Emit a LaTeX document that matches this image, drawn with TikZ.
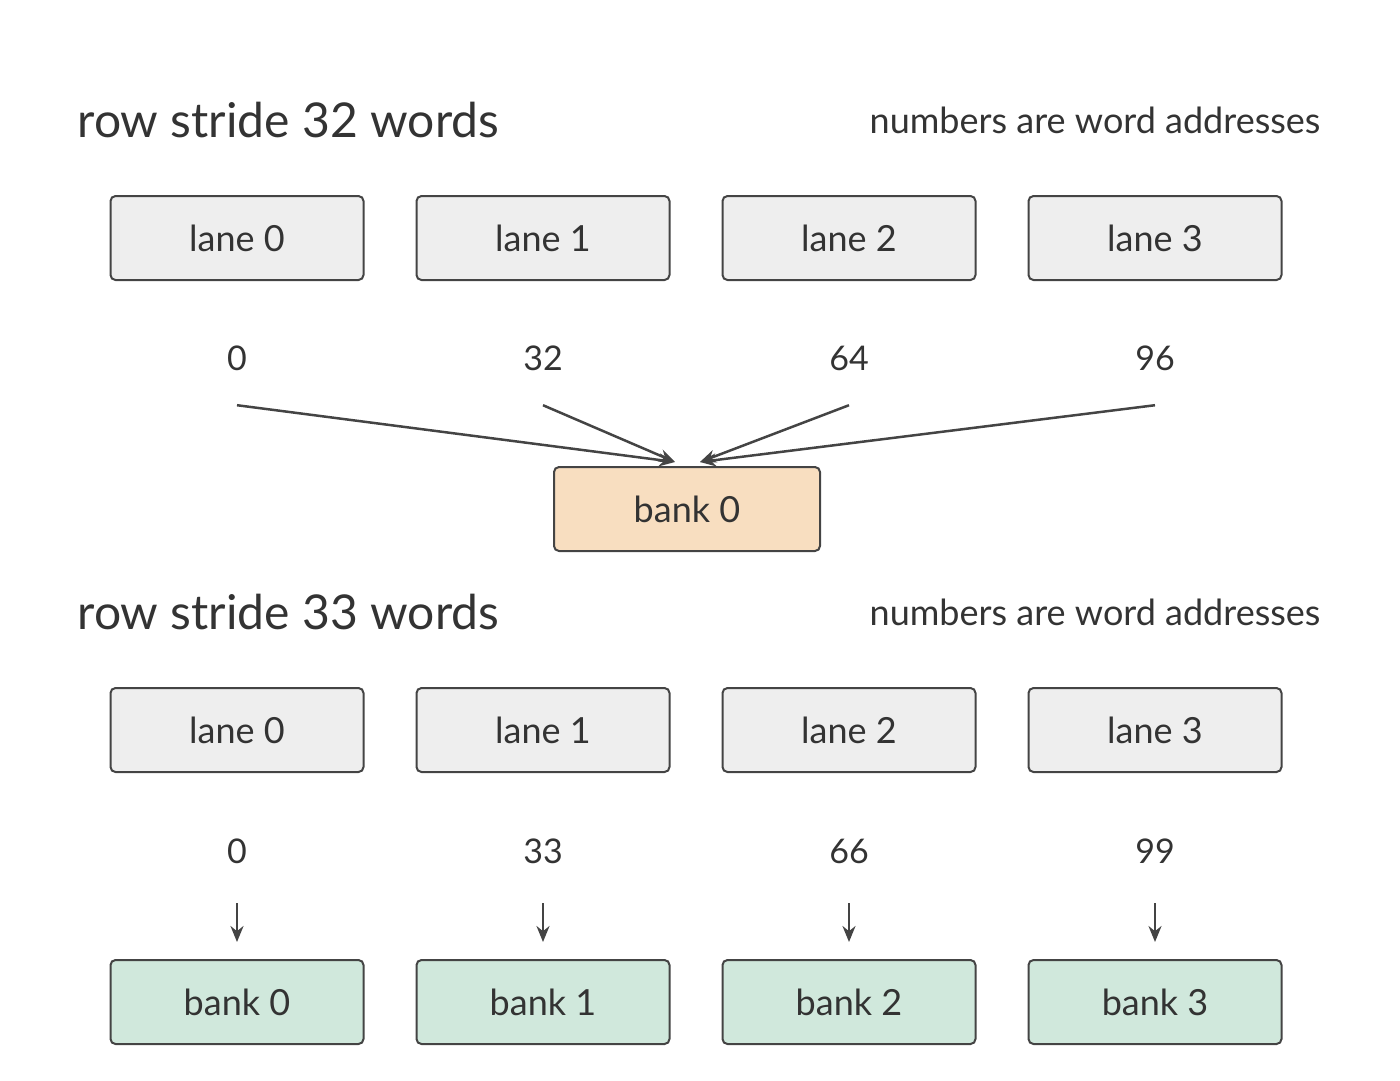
\documentclass[tikz,border=0pt]{standalone}
\usepackage{fontspec}
\setmainfont{Lato}
\usepackage{xcolor}
\usetikzlibrary{arrows.meta,positioning}
\definecolor{edge}{HTML}{444444}
\definecolor{ink}{HTML}{333333}
\definecolor{lanefill}{HTML}{EEEEEE}
\definecolor{hotfill}{HTML}{F8DEC0}
\definecolor{okfill}{HTML}{D0E8DC}
\tikzset{
  box/.style={draw=edge, line width=2pt, rounded corners=5pt, minimum width=253pt, minimum height=84pt, font=\fontsize{36}{40}\selectfont, text=ink},
  lanebox/.style={box, fill=lanefill},
  hotbank/.style={box, fill=hotfill, minimum width=266pt},
  okbank/.style={box, fill=okfill},
  addr/.style={inner sep=0pt, font=\fontsize{34}{38}\selectfont, text=ink},
  title/.style={anchor=west, font=\fontsize{48}{52}\selectfont, text=ink},
  note/.style={anchor=east, font=\fontsize{36}{40}\selectfont, text=ink},
  link/.style={draw=edge, line width=2.5pt, -{Stealth[length=16pt,width=13pt]}}
}
\begin{document}
\begin{tikzpicture}[x=1pt,y=-1pt]
\useasboundingbox (0,0) rectangle (1400,1080);
% stride 32
\node[title] (t1) at (74,120) {row stride 32 words};
\node[note] (m1) at (1324,120) {numbers are word addresses};
\foreach \i/\x/\a in {0/237/0,1/543/32,2/849/64,3/1155/96} {
  \node[lanebox] (la\i) at (\x,238) {lane \i};
  \node[addr, minimum height=94pt] (na\i) at (\x,358) {\a};
}
\node[hotbank] (ba) at (687,509) {bank 0};
\coordinate (hitl) at (675,462);
\coordinate (hitr) at (700,462);
\draw[link] (na0.south) -- (hitl);
\draw[link] (na1.south) -- (hitl);
\draw[link] (na2.south) -- (hitr);
\draw[link] (na3.south) -- (hitr);
% stride 33
\node[title] (t2) at (74,612) {row stride 33 words};
\node[note] (m2) at (1324,612) {numbers are word addresses};
\foreach \i/\x/\a in {0/237/0,1/543/33,2/849/66,3/1155/99} {
  \node[lanebox] (lb\i) at (\x,730) {lane \i};
  \node[addr, minimum height=104pt] (nb\i) at (\x,851) {\a};
  \node[okbank] (bb\i) at (\x,1002) {bank \i};
  \draw[link, shorten >=17pt] (nb\i.south) -- (bb\i.north);
}
\end{tikzpicture}
\end{document}
